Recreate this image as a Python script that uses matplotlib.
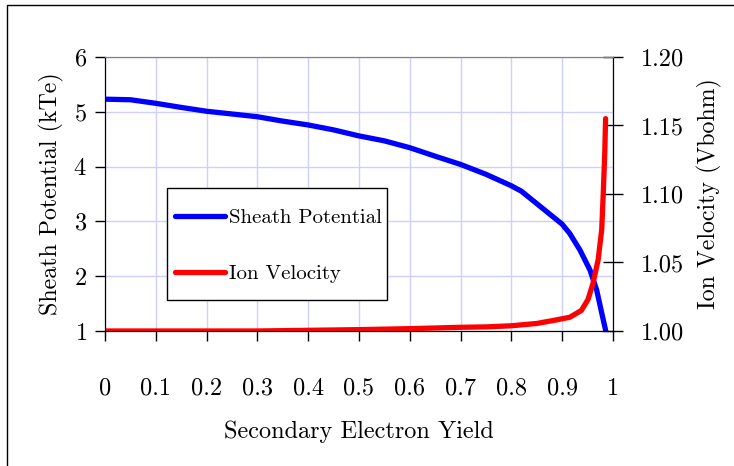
import matplotlib
matplotlib.use('Agg')
import matplotlib.pyplot as plt
from matplotlib.patches import Rectangle

plt.rcParams['font.family'] = 'cmr10'
plt.rcParams['axes.formatter.use_mathtext'] = True

# secondary electron yield vs sheath potential (kTe)
sey_phi = [0.0, 0.05, 0.1, 0.15, 0.2, 0.25, 0.3, 0.35, 0.4, 0.45, 0.5, 0.55, 0.6,
           0.65, 0.7, 0.75, 0.8, 0.82, 0.86, 0.9, 0.915, 0.935, 0.955, 0.968,
           0.978, 0.986]
phi = [5.23, 5.22, 5.155, 5.08, 5.01, 4.96, 4.91, 4.83, 4.76, 4.67, 4.56, 4.47,
       4.345, 4.19, 4.04, 3.86, 3.65, 3.55, 3.25, 2.95, 2.78, 2.48, 2.11, 1.75,
       1.33, 1.0]

# secondary electron yield vs ion velocity (Vbohm)
sey_v = [0.0, 0.1, 0.2, 0.3, 0.4, 0.5, 0.6, 0.7, 0.75, 0.8, 0.85, 0.88, 0.915,
         0.938, 0.951, 0.961, 0.971, 0.978, 0.981, 0.984, 0.9856]
vel = [1.0, 1.0, 1.0, 1.0, 1.0005, 1.001, 1.0017, 1.0027, 1.003, 1.0038, 1.0055,
       1.0075, 1.010, 1.015, 1.023, 1.035, 1.052, 1.074, 1.10, 1.13, 1.155]

xticks = [0, 0.1, 0.2, 0.3, 0.4, 0.5, 0.6, 0.7, 0.8, 0.9, 1.0]
xlabels = ['0', '0.1', '0.2', '0.3', '0.4', '0.5', '0.6', '0.7', '0.8', '0.9', '1']
yticks = [1, 2, 3, 4, 5, 6]
vticks = [1.00, 1.05, 1.10, 1.15, 1.20]
vlabels = ['1.00', '1.05', '1.10', '1.15', '1.20']

fig = plt.figure(figsize=(7.34, 4.66), dpi=100)
fig.patches.append(Rectangle((0.009, -0.1), 1.1, 1.089, transform=fig.transFigure,
                             fill=False, edgecolor='black', linewidth=1.0))

ax = fig.add_axes([0.143, 0.2897, 0.692, 0.588])
ax2 = ax.twinx()

grid_col = '#d0d0ff'
ax.set_xlim(0, 1)
ax.set_ylim(1, 6)
ax.set_xticks(xticks, xlabels)
ax.set_yticks(yticks)
for t in xticks:
    ax.axvline(t, color=grid_col, lw=1, zorder=0)
for t in yticks:
    ax.axhline(t, color=grid_col, lw=1, zorder=0)

l1, = ax.plot(sey_phi, phi, color='#0000ff', lw=3.8, solid_capstyle='round',
              label='Sheath Potential')
ax2.set_ylim(1.0, 1.2)
ax2.set_yticks(vticks, vlabels)
l2, = ax2.plot(sey_v, vel, color='#ff0000', lw=3.8, solid_capstyle='round',
               label='Ion Velocity')

ax.tick_params(axis='x', direction='out', length=7.5, width=1, pad=26, labelsize=17.5)
ax.tick_params(axis='y', direction='out', length=7, width=1, pad=6, labelsize=17.5)
ax2.tick_params(axis='y', direction='inout', length=14, width=1, pad=13, labelsize=17.5)

for a in (ax, ax2):
    a.spines['top'].set_color('#808080')
    for s in ('left', 'right', 'bottom'):
        a.spines[s].set_color('black')

ax.set_xlabel('Secondary Electron Yield', fontsize=17.5, labelpad=15)
ax.set_ylabel('Sheath Potential (kTe)', fontsize=17.2, labelpad=7)
ax2.set_ylabel('Ion Velocity (Vbohm)', fontsize=17.2, labelpad=9)

# legend box drawn separately so its padding can differ from the entry spacing
ax2.add_patch(Rectangle((0.122, 0.113), 0.433, 0.409, transform=ax2.transAxes,
                        facecolor='white', edgecolor='black', lw=1.0, zorder=4))
ax2.legend(handles=[l1, l2], loc='upper left', bbox_to_anchor=(0.138, 0.447),
           fontsize=15, frameon=False, labelspacing=1.8, handlelength=2.4,
           handletextpad=0.2, borderpad=0, borderaxespad=0)

fig.savefig('out.png', dpi=100)
